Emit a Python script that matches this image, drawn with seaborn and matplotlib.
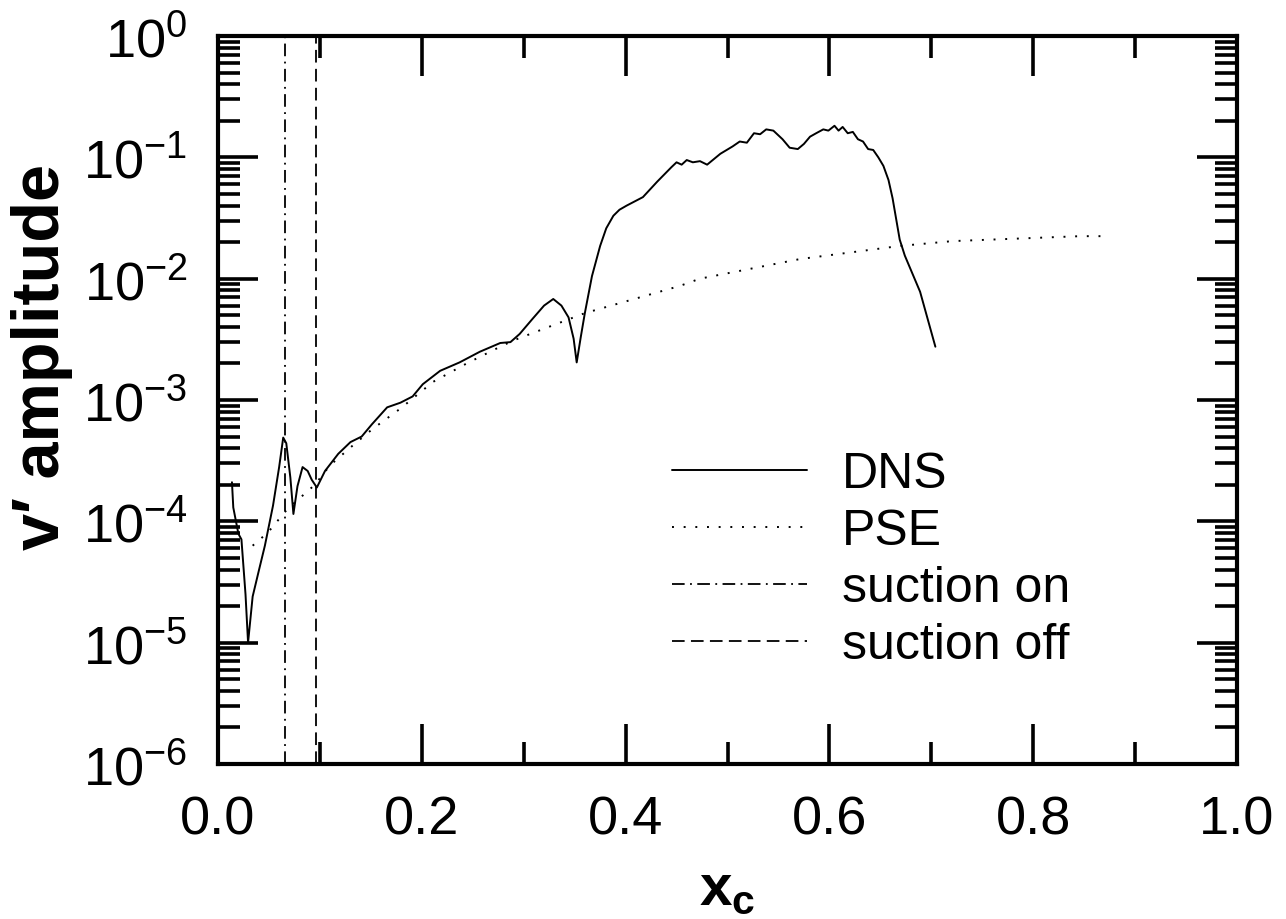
import matplotlib
matplotlib.use('Agg')
import matplotlib.pyplot as plt
import seaborn as sns
import pandas as pd
from matplotlib.ticker import MultipleLocator, LogLocator, NullFormatter, FormatStrFormatter

# DNS v' amplitude along the chord
dns_x = [0.0137, 0.015, 0.020, 0.023, 0.027, 0.0295, 0.034, 0.040, 0.046, 0.054, 0.060,
         0.064, 0.067, 0.071, 0.074, 0.078, 0.083, 0.088, 0.092, 0.097, 0.105,
         0.118, 0.130, 0.141, 0.151, 0.166, 0.179, 0.191, 0.201, 0.218, 0.237,
         0.257, 0.277, 0.287, 0.296, 0.309, 0.320, 0.329, 0.337, 0.344, 0.349,
         0.352, 0.356, 0.360, 0.367, 0.375, 0.381, 0.388, 0.394, 0.401, 0.417, 0.431, 0.445,
         0.450, 0.455, 0.460, 0.466, 0.473, 0.480, 0.493, 0.505, 0.512, 0.519,
         0.526, 0.532, 0.538, 0.545, 0.554, 0.561, 0.569, 0.575, 0.581, 0.587,
         0.594, 0.599, 0.605, 0.609, 0.613, 0.618, 0.623, 0.628, 0.633, 0.638,
         0.643, 0.648, 0.653, 0.658, 0.662, 0.669, 0.674, 0.689, 0.704]
dns_amp = [2.1e-4, 1.3e-4, 7.9e-5, 7.1e-5, 2.5e-5, 1.0e-5, 2.4e-5, 3.9e-5, 6.3e-5, 1.35e-4, 2.8e-4,
           4.9e-4, 4.4e-4, 2.3e-4, 1.15e-4, 1.95e-4, 2.8e-4, 2.6e-4, 2.2e-4, 1.9e-4, 2.6e-4,
           3.6e-4, 4.5e-4, 5.0e-4, 6.3e-4, 8.7e-4, 9.5e-4, 1.07e-3, 1.35e-3, 1.74e-3, 2.04e-3,
           2.5e-3, 2.95e-3, 3.0e-3, 3.5e-3, 4.7e-3, 6.0e-3, 6.8e-3, 6.0e-3, 4.8e-3, 3.2e-3,
           2.04e-3, 3.3e-3, 5.2e-3, 1.05e-2, 1.86e-2, 2.6e-2, 3.3e-2, 3.7e-2, 4.0e-2, 4.7e-2, 6.3e-2, 8.3e-2,
           9.1e-2, 8.7e-2, 9.5e-2, 9.1e-2, 9.3e-2, 8.7e-2, 0.107, 0.123, 0.135, 0.132,
           0.158, 0.155, 0.170, 0.166, 0.141, 0.120, 0.117, 0.129, 0.148, 0.158,
           0.170, 0.166, 0.182, 0.166, 0.178, 0.158, 0.162, 0.141, 0.135, 0.117,
           0.115, 0.100, 8.5e-2, 6.5e-2, 4.6e-2, 2.1e-2, 1.55e-2, 7.8e-3, 2.75e-3]

# PSE prediction
pse_x = [0.034, 0.049, 0.068, 0.095, 0.110, 0.132, 0.152, 0.179, 0.211, 0.244,
         0.277, 0.290, 0.360, 0.453, 0.473, 0.571, 0.669, 0.721, 0.846, 0.870]
pse_amp = [6.3e-5, 8.1e-5, 1.26e-4, 2.0e-4, 2.9e-4, 4.2e-4, 5.8e-4, 8.5e-4, 1.41e-3, 2.0e-3,
           2.75e-3, 3.1e-3, 5.2e-3, 8.7e-3, 1.0e-2, 1.45e-2, 1.86e-2, 2.04e-2, 2.24e-2, 2.24e-2]

# suction strip start / end
suction_on_x = 0.066
suction_off_x = 0.096

dns = pd.DataFrame({'x': dns_x, 'amp': dns_amp})
pse = pd.DataFrame({'x': pse_x, 'amp': pse_amp})

sns.set_theme(style='ticks')
plt.rcParams['font.family'] = ['Liberation Sans', 'DejaVu Sans']
plt.rcParams['mathtext.fontset'] = 'custom'
plt.rcParams['mathtext.rm'] = 'Liberation Sans'
plt.rcParams['mathtext.it'] = 'Liberation Sans'
plt.rcParams['mathtext.bf'] = 'Liberation Sans:bold'
plt.rcParams['mathtext.default'] = 'rm'
plt.rcParams['text.color'] = 'black'
plt.rcParams['axes.labelcolor'] = 'black'

fig = plt.figure(figsize=(12.86, 9.2), dpi=100)
ax = fig.add_axes([218 / 1286, 1 - 765 / 920, 1019 / 1286, 728 / 920])

sns.lineplot(data=dns, x='x', y='amp', ax=ax, color='black', lw=1.4,
             label='DNS', sort=False, estimator=None)
sns.lineplot(data=pse, x='x', y='amp', ax=ax, color='black', lw=1.4,
             linestyle=(0, (1, 5)), label='PSE', sort=False, estimator=None)
ax.axvline(suction_on_x, color='black', lw=1.3, linestyle=(0, (7, 3, 1, 3)), label='suction on')
ax.axvline(suction_off_x, color='black', lw=1.3, linestyle=(0, (7, 3.5)), label='suction off')

ax.set_yscale('log')
ax.set_xlim(0, 1)
ax.set_ylim(1e-6, 1)
ax.xaxis.set_major_locator(MultipleLocator(0.2))
ax.xaxis.set_minor_locator(MultipleLocator(0.1))
ax.xaxis.set_major_formatter(FormatStrFormatter('%.1f'))
ax.yaxis.set_major_locator(LogLocator(base=10, numticks=10))
ax.yaxis.set_minor_locator(LogLocator(base=10, subs=range(2, 10), numticks=10))
ax.yaxis.set_minor_formatter(NullFormatter())

ax.tick_params(which='both', direction='in', top=True, right=True,
               color='black', labelcolor='black')
ax.tick_params(which='major', length=29, width=2.6, labelsize=39, pad=22)
ax.tick_params(which='minor', length=16, width=2.6)
for sp in ax.spines.values():
    sp.set_linewidth(3)
    sp.set_color('black')

ax.set_xlabel(r'$\mathbf{x_c}$', fontsize=42)
ax.set_ylabel('v′ amplitude', fontsize=48, fontweight='bold')
ax.xaxis.set_label_coords(0.5, -0.135)
ax.yaxis.set_label_coords(-0.142, 0.56)

ax.legend(loc='upper left', bbox_to_anchor=(672 / 1286, 1 - 452 / 920),
          bbox_transform=fig.transFigure, frameon=False, fontsize=36,
          handlelength=2.7, handletextpad=0.7, labelspacing=0.22,
          borderpad=0, borderaxespad=0)

fig.savefig('out.png', dpi=100)
plt.close()
